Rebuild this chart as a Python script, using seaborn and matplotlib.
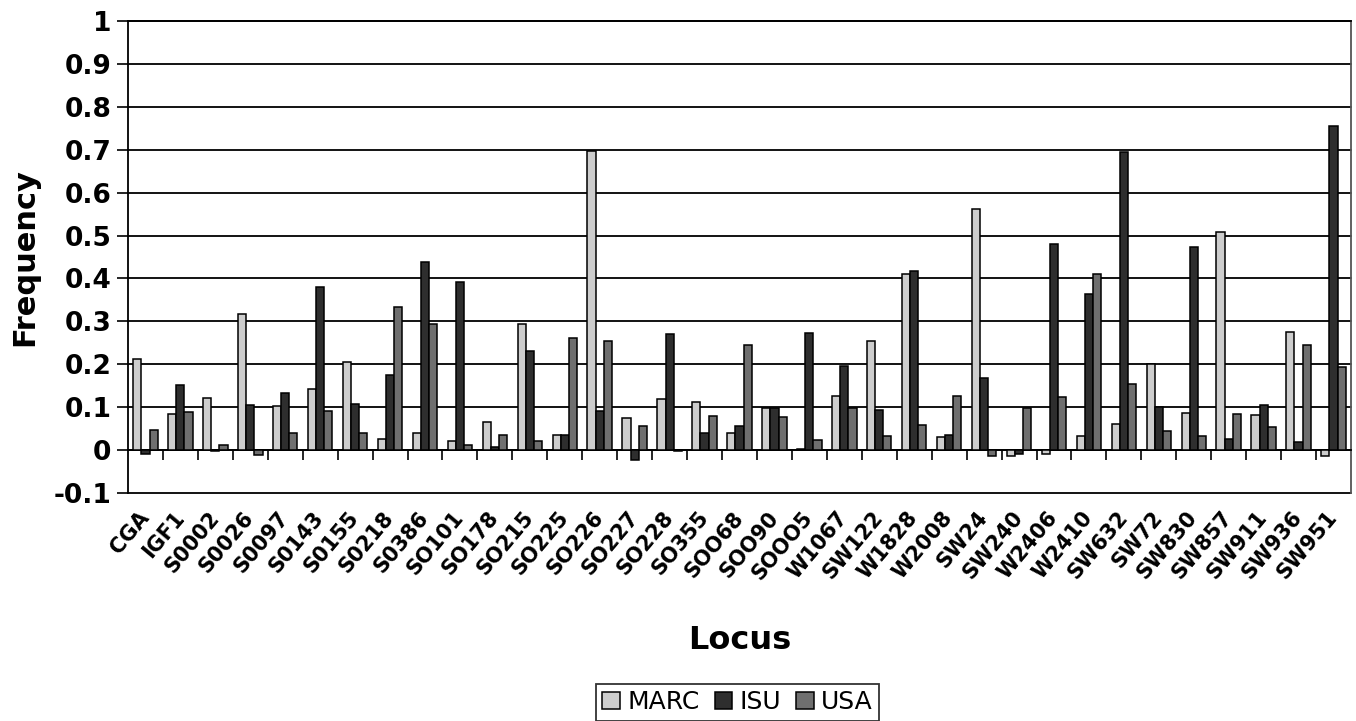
import numpy as np
import pandas as pd
import seaborn as sns
import matplotlib.pyplot as plt

loci = ['CGA', 'IGF1', 'S0002', 'S0026', 'S0097', 'S0143', 'S0155', 'S0218', 'S0386',
        'SO101', 'SO178', 'SO215', 'SO225', 'SO226', 'SO227', 'SO228', 'SO355', 'SOO68',
        'SOO90', 'SOOO5', 'W1067', 'SW122', 'W1828', 'W2008', 'SW24', 'SW240', 'W2406',
        'W2410', 'SW632', 'SW72', 'SW830', 'SW857', 'SW911', 'SW936', 'SW951']

marc = [0.213, 0.083, 0.121, 0.318, 0.103, 0.143, 0.205, 0.026, 0.041,
        0.022, 0.065, 0.293, 0.035, 0.698, 0.074, 0.119, 0.112, 0.041,
        0.099, 0.002, 0.127, 0.255, 0.410, 0.030, 0.563, -0.014, -0.010,
        0.032, 0.062, 0.200, 0.086, 0.508, 0.081, 0.276, -0.013]
isu = [-0.008, 0.152, -0.003, 0.104, 0.133, 0.381, 0.107, 0.175, 0.438,
       0.392, 0.008, 0.232, 0.035, 0.092, -0.022, 0.271, 0.041, 0.057,
       0.099, 0.273, 0.197, 0.093, 0.417, 0.036, 0.167, -0.009, 0.480,
       0.363, 0.695, 0.100, 0.473, 0.027, 0.105, 0.018, 0.755]
usa = [0.047, 0.088, 0.011, -0.012, 0.041, 0.092, 0.039, 0.333, 0.293,
       0.013, 0.035, 0.022, 0.262, 0.255, 0.056, -0.003, 0.080, 0.246,
       0.076, 0.023, 0.098, 0.032, 0.058, 0.125, -0.013, 0.098, 0.124,
       0.410, 0.155, 0.045, 0.032, 0.083, 0.053, 0.245, 0.193]

groups = ['MARC', 'ISU', 'USA']
colors = ['#cdcdcd', '#2e2e2e', '#6f6f6f']
yticks = [-0.1, 0, 0.1, 0.2, 0.3, 0.4, 0.5, 0.6, 0.7, 0.8, 0.9, 1]
ytick_labels = ['-0.1', '0', '0.1', '0.2', '0.3', '0.4', '0.5', '0.6', '0.7', '0.8', '0.9', '1']

df = pd.DataFrame({
    'Locus': loci * 3,
    'Frequency': marc + isu + usa,
    'Group': [g for g in groups for _ in loci],
})

sns.set_style('white')
plt.rcParams['font.family'] = ['DejaVu Sans']
plt.rcParams['text.color'] = 'black'
plt.rcParams['xtick.color'] = 'black'
plt.rcParams['ytick.color'] = 'black'

fig = plt.figure(figsize=(13.56, 7.21), dpi=100)
ax = fig.add_axes([0.0944, 0.3162, 0.9019, 0.6547])

sns.barplot(data=df, x='Locus', y='Frequency', hue='Group', order=loci,
            hue_order=groups, palette=colors, width=0.7, errorbar=None,
            edgecolor='black', linewidth=1.1, ax=ax, zorder=3)

ax.set_ylim(-0.1, 1.0)
ax.set_xlim(-0.5, len(loci) - 0.5)
ax.set_yticks(yticks)
ax.set_yticklabels(ytick_labels, fontsize=19, fontweight='bold', color='black')
ax.tick_params(axis='y', left=True, length=8, width=1.2, color='black', pad=4)

ax.yaxis.grid(True, color='black', linewidth=1.3)
ax.set_axisbelow(True)
for gl in ax.get_ygridlines():
    gl.set_clip_on(False)

# category axis crosses at zero, ticks between categories
ax.spines['bottom'].set_position(('data', 0))
ax.set_xticks(range(len(loci)))
ax.set_xticklabels(loci, rotation=50, ha='right', va='center',
                   rotation_mode='anchor', fontsize=15, fontweight='bold', color='black')
ax.set_xticks(np.arange(0.5, len(loci) - 0.5, 1), minor=True)
ax.tick_params(axis='x', which='major', bottom=True, length=0, pad=46)
ax.tick_params(axis='x', which='minor', bottom=True, length=7, width=1.2,
               color='black', direction='out')

for side in ['left', 'right', 'top', 'bottom']:
    ax.spines[side].set_color('black')
    ax.spines[side].set_linewidth(1.3)
ax.spines['right'].set_color('#555555')

ax.set_xlabel('')
ax.set_ylabel('')
fig.text(0.018, 0.644, 'Frequency', rotation=90, ha='center', va='center',
         fontsize=22, fontweight='bold', color='black')
fig.text(0.5457, 0.112, 'Locus', ha='center', va='center',
         fontsize=23, fontweight='bold', color='black')

handles, labels = ax.get_legend_handles_labels()
ax.legend_.remove()
leg = fig.legend(handles, labels, loc='center', bbox_to_anchor=(0.544, 0.026),
                 ncol=3, fontsize=18, frameon=True, fancybox=False,
                 edgecolor='black', handlelength=0.7, handleheight=0.7,
                 handletextpad=0.3, columnspacing=0.6, borderpad=0.25,
                 borderaxespad=0)
leg.get_frame().set_linewidth(1.3)
for t in leg.get_texts():
    t.set_color('black')

fig.savefig('out.png', dpi=100)
